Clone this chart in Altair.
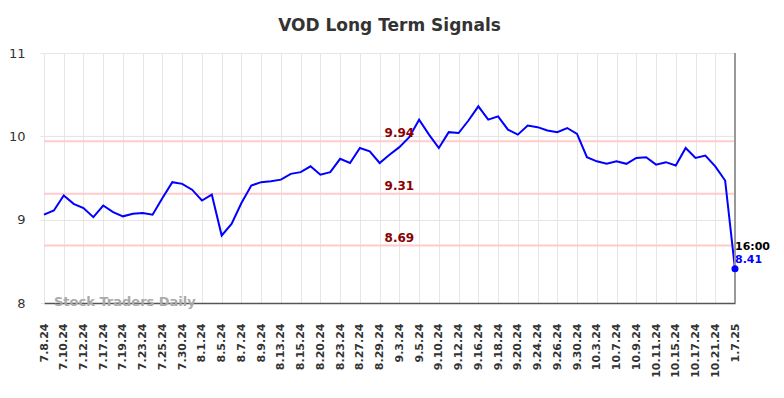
import json
import altair as alt
import pandas as pd

tick_labels = ["7.8.24", "7.10.24", "7.12.24", "7.17.24", "7.19.24", "7.23.24", "7.25.24",
               "7.30.24", "8.1.24", "8.5.24", "8.7.24", "8.9.24", "8.13.24", "8.15.24",
               "8.20.24", "8.23.24", "8.27.24", "8.29.24", "9.3.24", "9.5.24", "9.10.24",
               "9.12.24", "9.16.24", "9.18.24", "9.20.24", "9.24.24", "9.26.24", "9.30.24",
               "10.3.24", "10.7.24", "10.9.24", "10.11.24", "10.15.24", "10.17.24",
               "10.21.24", "1.7.25"]

prices = [9.06, 9.11, 9.29, 9.19, 9.14, 9.03, 9.17, 9.09, 9.04, 9.07,
          9.08, 9.06, 9.26, 9.45, 9.43, 9.36, 9.23, 9.30, 8.81, 8.95,
          9.20, 9.41, 9.45, 9.46, 9.48, 9.55, 9.57, 9.64, 9.54, 9.57,
          9.73, 9.68, 9.86, 9.82, 9.68, 9.78, 9.87, 9.99, 10.20, 10.02,
          9.86, 10.05, 10.04, 10.19, 10.36, 10.20, 10.24, 10.08, 10.02, 10.13,
          10.11, 10.07, 10.05, 10.10, 10.03, 9.75, 9.70, 9.67, 9.70, 9.67,
          9.74, 9.75, 9.66, 9.69, 9.65, 9.86, 9.74, 9.77, 9.64, 9.47,
          8.41]

levels = [9.94, 9.31, 8.69]
level_labels = ["9.94", "9.31", "8.69"]
last_time = "16:00"

df = pd.DataFrame({"i": list(range(len(prices))), "price": prices})
lv = pd.DataFrame({"level": levels, "label": level_labels, "i": [36] * len(levels)})
last = df.tail(1).assign(time=last_time, lbl=[f"{prices[-1]:.2f}"])

n = len(prices) - 1
xscale = alt.Scale(domain=[0, n], nice=False, zero=False)
yscale = alt.Scale(domain=[8, 11], nice=False, zero=False)

label_expr = json.dumps(tick_labels) + "[round(datum.value/2)]"

x_axis = alt.Axis(values=list(range(0, n + 1, 2)), labelExpr=label_expr, labelAngle=270,
                  labelFont="DejaVu Sans", labelFontWeight="bold", labelFontSize=11,
                  labelColor="#333", grid=True, gridColor="#e6e6e6", ticks=False,
                  labelPadding=20, domainColor="#555", domainWidth=1.5, title=None,
                  labelOverlap=False, labelBound=False, labelFlush=False, tickCount=36)
y_axis = alt.Axis(values=[8, 9, 10, 11], labelFont="DejaVu Sans", labelFontSize=13,
                  labelColor="#333", grid=True, gridColor="#e6e6e6", tickColor="#e6e6e6",
                  tickSize=4, labelPadding=15, domain=False, title=None, format="d")

base = alt.Chart(df)

line = base.mark_line(color="#0000ff", strokeWidth=2).encode(
    x=alt.X("i:Q", scale=xscale, axis=x_axis),
    y=alt.Y("price:Q", scale=yscale, axis=y_axis),
)

rules = alt.Chart(lv).mark_rule(color="#ffcccc", strokeWidth=2).encode(
    y=alt.Y("level:Q", scale=yscale)
)
rule_text = alt.Chart(lv).mark_text(color="#8b0000", font="DejaVu Sans", fontWeight="bold",
                                    fontSize=12, align="center", baseline="alphabetic", dy=-4).encode(
    x=alt.X("i:Q", scale=xscale), y=alt.Y("level:Q", scale=yscale), text="label:N"
)

vline = alt.Chart(last).mark_rule(color="#999999", strokeWidth=2).encode(
    x=alt.X("i:Q", scale=xscale), y=alt.value(0), y2=alt.value(250)
)
pt = alt.Chart(last).mark_circle(color="#0000ff", size=50, opacity=1).encode(
    x=alt.X("i:Q", scale=xscale), y=alt.Y("price:Q", scale=yscale)
)
t_time = alt.Chart(last).mark_text(color="#000000", font="DejaVu Sans", fontWeight="bold",
                                   fontSize=11, align="left", baseline="alphabetic", dy=-19).encode(
    x=alt.X("i:Q", scale=xscale), y=alt.Y("price:Q", scale=yscale), text="time:N"
)
t_val = alt.Chart(last).mark_text(color="#0000ff", font="DejaVu Sans", fontWeight="bold",
                                  fontSize=11, align="left", baseline="alphabetic", dy=-6).encode(
    x=alt.X("i:Q", scale=xscale), y=alt.Y("price:Q", scale=yscale), text="lbl:N"
)

wm = alt.Chart(last).mark_text(color="#aaaaaa", font="DejaVu Sans", fontWeight="bold",
                               fontSize=13, align="left", baseline="alphabetic", text="Stock Traders Daily").encode(
    x=alt.value(10), y=alt.value(253)
)

chart = alt.layer(rules, line, vline, rule_text, pt, t_time, t_val, wm).properties(
    width=691, height=250,
    title=alt.TitleParams("VOD Long Term Signals", font="DejaVu Sans", fontSize=17,
                          fontWeight="bold", color="#333333", anchor="middle", offset=12),
    autosize=alt.AutoSizeParams(type="none"),
    padding={"left": 36, "top": 45, "right": 40, "bottom": 80},
).configure_view(stroke=None).configure_axisX(labelOverlap=False)

chart.save("out.html", embed_options={"renderer": "svg", "actions": False})
